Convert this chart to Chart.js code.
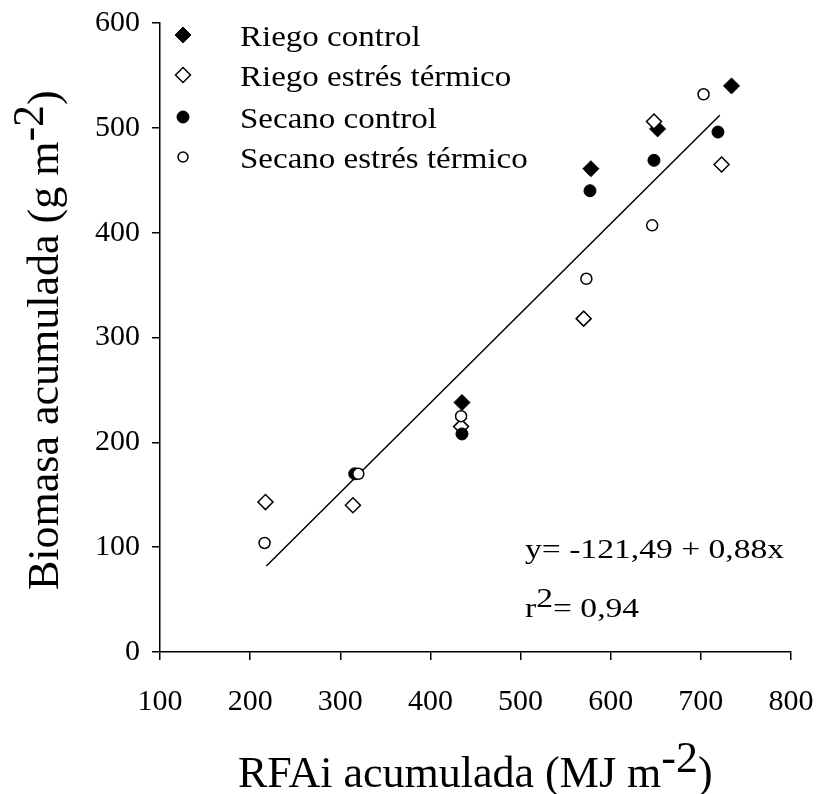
<!DOCTYPE html>
<html>
<head>
<meta charset="utf-8">
<script src="https://cdn.jsdelivr.net/npm/chart.js@4"></script>
<style>
  body { margin: 0; background: #fff; }
  canvas { display: block; }
</style>
</head>
<body>
<canvas id="biomasaChart" width="817" height="794"></canvas>
<script>
// values
const xTicks = [100, 200, 300, 400, 500, 600, 700, 800];
const yTicks = [0, 100, 200, 300, 400, 500, 600];

const riegoControlX = [435, 578, 652, 734];
const riegoControlY = [238, 461, 499, 540];

const riegoEstresX = [217, 314, 434, 570, 648, 723];
const riegoEstresY = [143, 140, 215, 318, 506, 465];

const secanoControlX = [316, 435, 577, 648, 719];
const secanoControlY = [170, 208, 440, 469, 496];

const secanoEstresX = [216, 320, 434, 573, 646, 703];
const secanoEstresY = [104, 170, 225, 356, 407, 532];

// fitted line as drawn (end points)
const lineaX = [218, 721];
const lineaY = [82, 512];

const seriesNames = ["Riego control", "Riego estrés térmico", "Secano control", "Secano estrés térmico"];
const ecuacion = "y= -121,49 + 0,88x";
const r2Texto = "= 0,94";

const SERIF = '"Liberation Serif", "Times New Roman", serif';

function toPoints(xs, ys) {
    return xs.map((x, i) => ({ x: x, y: ys[i] }));
}

const markers = [
    { pointStyle: "rectRot", radius: 8, fill: "#000", borderWidth: 1 },
    { pointStyle: "rectRot", radius: 7.5, fill: "#fff", borderWidth: 1.5 },
    { pointStyle: "circle", radius: 6, fill: "#000", borderWidth: 1 },
    { pointStyle: "circle", radius: 5.5, fill: "#fff", borderWidth: 1.5 }
];

function serie(label, xs, ys, m, order) {
    return {
        label: label,
        data: toPoints(xs, ys),
        pointStyle: m.pointStyle,
        pointRadius: m.radius,
        pointBackgroundColor: m.fill,
        pointBorderColor: "#000",
        pointBorderWidth: m.borderWidth,
        showLine: false,
        order: order
    };
}

// text with a raised superscript, drawn piece by piece
// sx = horizontal stretch (the original text is a bit wide)
function drawPieces(ctx, pieces, x, y, sx) {
    ctx.save();
    ctx.translate(x, y);
    ctx.scale(sx || 1, 1);
    let cx = 0;
    pieces.forEach(p => {
        ctx.fillText(p.t, cx, -(p.up || 0));
        cx += ctx.measureText(p.t).width;
    });
    ctx.restore();
}

const extras = {
    id: "extras",
    afterDraw(chart) {
        const ctx = chart.ctx;
        ctx.save();
        ctx.fillStyle = "#000";
        ctx.textBaseline = "alphabetic";
        ctx.textAlign = "left";

        // legend
        const rows = [35, 75, 117, 157];
        ctx.font = "30px " + SERIF;
        rows.forEach((ry, i) => {
            const m = markers[i];
            ctx.save();
            ctx.fillStyle = m.fill;
            ctx.strokeStyle = "#000";
            ctx.lineWidth = m.borderWidth;
            Chart.helpers.drawPoint(ctx, {
                pointStyle: m.pointStyle,
                radius: i === 3 ? 5 : m.radius,
                rotation: 0,
                borderWidth: m.borderWidth
            }, 183, ry);
            ctx.restore();
            drawPieces(ctx, [{ t: seriesNames[i] }], 240, ry + 11, 1.1);
        });

        // x axis title
        ctx.font = "44px " + SERIF;
        drawPieces(ctx, [
            { t: "RFAi acumulada (MJ m" },
            { t: "-2", up: 15 },
            { t: ")" }
        ], 238, 787);

        // y axis title
        ctx.save();
        ctx.translate(58, 590);
        ctx.rotate(-Math.PI / 2);
        drawPieces(ctx, [
            { t: "Biomasa acumulada (g m" },
            { t: "-2", up: 15 },
            { t: ")" }
        ], 0, 0);
        ctx.restore();

        // regression text
        ctx.font = "28px " + SERIF;
        drawPieces(ctx, [{ t: ecuacion }], 525, 558, 1.2);
        drawPieces(ctx, [
            { t: "r" },
            { t: "2", up: 10 },
            { t: r2Texto }
        ], 525, 617, 1.2);

        ctx.restore();
    }
};

Chart.defaults.font.family = SERIF;
Chart.defaults.color = "#000";

new Chart(document.getElementById("biomasaChart"), {
    type: "scatter",
    data: {
        datasets: [
            serie(seriesNames[0], riegoControlX, riegoControlY, markers[0], 4),
            serie(seriesNames[1], riegoEstresX, riegoEstresY, markers[1], 3),
            serie(seriesNames[2], secanoControlX, secanoControlY, markers[2], 2),
            serie(seriesNames[3], secanoEstresX, secanoEstresY, markers[3], 1),
            {
                type: "line",
                label: "ajuste",
                data: toPoints(lineaX, lineaY),
                borderColor: "#000",
                borderWidth: 1.5,
                pointRadius: 0,
                fill: false,
                order: 5
            }
        ]
    },
    options: {
        responsive: false,
        animation: false,
        devicePixelRatio: 1,
        layout: { padding: { top: 23, right: 26, left: 0, bottom: 0 } },
        plugins: {
            legend: { display: false },
            tooltip: { enabled: false }
        },
        scales: {
            x: {
                type: "linear",
                min: 100,
                max: 800,
                afterBuildTicks: s => { s.ticks = xTicks.map(v => ({ value: v })); },
                afterFit: s => { s.height = 142; s.paddingLeft = 0; s.paddingRight = 0; },
                grid: { drawOnChartArea: false, drawTicks: true, tickLength: 8, color: "#000", lineWidth: 1.5 },
                border: { display: true, color: "#000", width: 1.5 },
                ticks: { font: { size: 30 }, padding: 24, maxRotation: 0 }
            },
            y: {
                type: "linear",
                min: 0,
                max: 600,
                afterBuildTicks: s => { s.ticks = yTicks.map(v => ({ value: v })); },
                afterFit: s => { s.width = 160; s.paddingTop = 0; s.paddingBottom = 0; },
                grid: { drawOnChartArea: false, drawTicks: true, tickLength: 8, color: "#000", lineWidth: 1.5 },
                border: { display: true, color: "#000", width: 1.5 },
                ticks: { font: { size: 30 }, padding: 12 }
            }
        }
    },
    plugins: [extras]
});
</script>
</body>
</html>
